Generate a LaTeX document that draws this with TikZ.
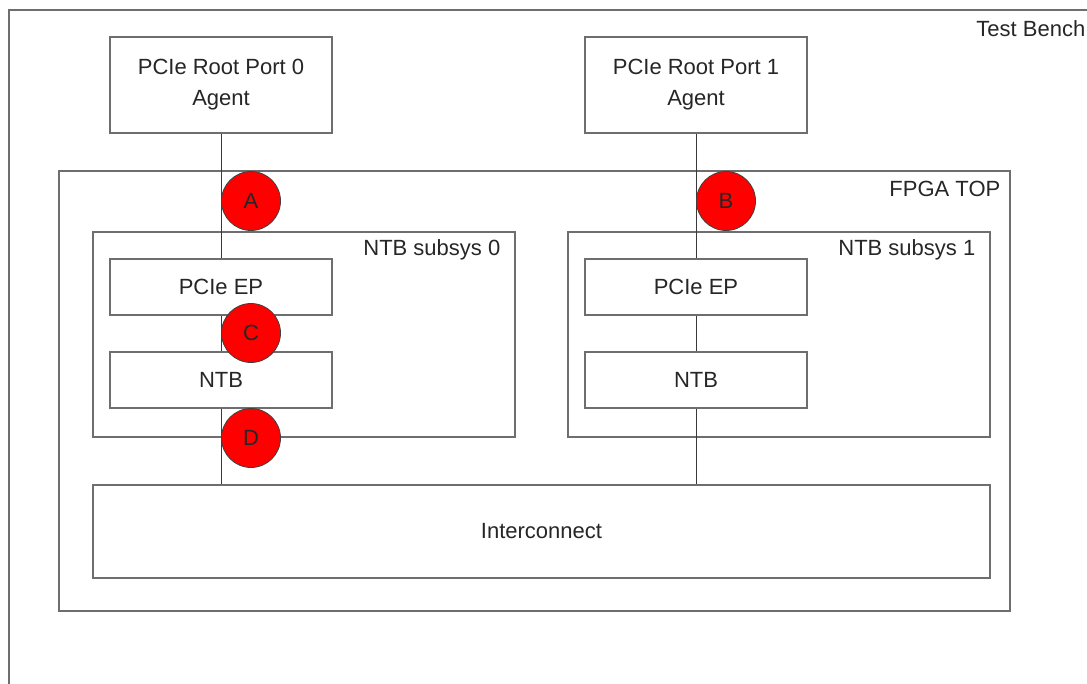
\documentclass[tikz,border=0pt]{standalone}
\usepackage{fontspec}
\setmainfont{Liberation Sans}
\usetikzlibrary{positioning}

\definecolor{frame}{HTML}{6E6E6E}
\definecolor{wire}{HTML}{3A3A3A}
\definecolor{probe}{HTML}{FF0000}

\tikzset{
    blk/.style={draw=frame, line width=0.7pt, fill=white, inner sep=0pt,
        align=center, minimum width=111pt, minimum height=28pt},
    grp/.style={draw=frame, line width=0.7pt, inner sep=0pt},
    tag/.style={anchor=base east, inner sep=0pt},
    link/.style={draw=wire, line width=0.5pt},
    probept/.style={circle, fill=probe, draw=black!75, line width=0.4pt,
        minimum size=29.5pt, inner sep=0pt},
}

\begin{document}
\begin{tikzpicture}[x=0.5pt, y=-0.5pt, font=\fontsize{11}{14.5}\selectfont, text=black!85]
    \clip (0,0) rectangle (1087,684);
    %% Containers
    \node[grp, minimum width=541.5pt, minimum height=355pt] (bench) at (550.5,365) {};
    \node[tag] at ([shift={(-7,27)}]bench.north east) {Test Bench};
    \node[grp, minimum width=475.5pt, minimum height=220pt] (fpga) at (534.5,391) {};
    \node[tag] at ([shift={(-10,26)}]fpga.north east) {FPGA TOP};
    \node[grp, minimum width=211pt, minimum height=102.5pt] (sub0) at (304,334.5) {};
    \node[tag] at ([shift={(-15,24)}]sub0.north east) {NTB subsys 0};
    \node[grp, minimum width=211pt, minimum height=102.5pt] (sub1) at (779,334.5) {};
    \node[tag] at ([shift={(-15,24)}]sub1.north east) {NTB subsys 1};
    %% Blocks
    \node[blk, minimum height=48pt] (rp0) at (221,85) {PCIe Root Port 0\\[1pt]Agent};
    \node[blk, minimum height=48pt] (rp1) at (696,85) {PCIe Root Port 1\\[1pt]Agent};
    \node[blk] (ep0)  at (221,287) {PCIe EP};
    \node[blk] (ntb0) at (221,380) {NTB};
    \node[blk] (ep1)  at (696,287) {PCIe EP};
    \node[blk] (ntb1) at (696,380) {NTB};
    \node[blk, minimum width=448.5pt, minimum height=46.5pt] (ic) at (541.5,531.5) {Interconnect};
    %% Links
    \draw[link] (rp0) -- (ep0);
    \draw[link] (ep0) -- (ntb0);
    \draw[link] (ntb0.south) -- (ntb0.south |- ic.north);
    \draw[link] (rp1) -- (ep1);
    \draw[link] (ep1) -- (ntb1);
    \draw[link] (ntb1.south) -- (ntb1.south |- ic.north);
    %% Probe points
    \node[probept] (pA) at (251,201) {A};
    \node[probept] (pB) at (726,201) {B};
    \node[probept] (pC) at (251,333) {C};
    \node[probept] (pD) at (251,438) {D};
\end{tikzpicture}
\end{document}
